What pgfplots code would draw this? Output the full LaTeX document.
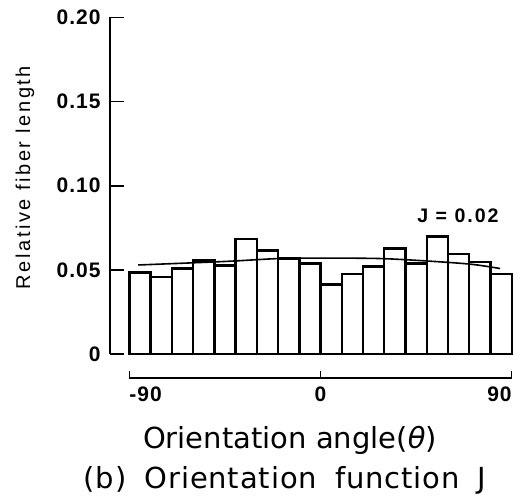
\documentclass[border=0pt]{standalone}
\usepackage{fontspec}
\setmainfont{Liberation Sans}
\newfontfamily\titlefont{DejaVu Sans}
\newfontfamily\ylabfont[LetterSpace=13]{Liberation Sans}
\newfontfamily\tickfont[LetterSpace=5]{Liberation Sans}
\newfontfamily\jfont[LetterSpace=10]{Liberation Sans}
\usepackage{pgfplots}
\pgfplotsset{compat=1.18}
\begin{document}
\begin{tikzpicture}[x=1pt,y=1pt]
\path[use as bounding box] (0,0) rectangle (265.5,-250.5);
% main axis with bars and y axis
\begin{axis}[
  at={(55pt,-177pt)}, anchor=south west,
  scale only axis, width=203pt, height=168.25pt,
  xmin=-99.1, xmax=92, ymin=0, ymax=0.2,
  axis x line=none, axis y line*=left,
  axis line style={line width=0.8pt, -},
  ytick={0,0.05,0.10,0.15,0.20},
  yticklabels={0,0.05,0.10,0.15,0.20},
  tick align=inside, major tick length=7pt,
  tick style={line width=0.8pt, black},
  /pgf/number format/assume math mode=true,
  yticklabel style={font=\tickfont\bfseries\fontsize{10.5}{12}\selectfont, inner sep=0pt},
  yticklabel shift=4.5pt,
  ylabel={\ylabfont\fontsize{10}{12}\selectfont Relative fiber length},
  ylabel style={at={(axis description cs:-0.2094,0.524)}, anchor=center},
  clip=false,
]
\addplot[ybar, bar width=10, bar shift=0, fill=white, draw=black, line width=1.2pt] coordinates {
(-85,0.0485) (-75,0.0457) (-65,0.0507) (-55,0.0556) (-45,0.0526) (-35,0.0684)
(-25,0.0615) (-15,0.0568) (-5,0.0538) (5,0.0412) (15,0.0477) (25,0.0521)
(35,0.0627) (45,0.0539) (55,0.0699) (65,0.0595) (75,0.0547) (85,0.0476)
};
\addplot[smooth, black, line width=0.8pt, mark=none] coordinates {
(-85.8,0.0529) (-45,0.0550) (-20,0.0567) (2,0.0570) (28.8,0.0567) (52.3,0.0551) (71.2,0.0533) (84.5,0.0508)
};
\node[font=\jfont\bfseries\fontsize{9.8}{12}\selectfont] at (axis cs:64.7,0.082) {J = 0.02};
\end{axis}
% separate x axis
\begin{axis}[
  at={(64.65pt,-189pt)}, anchor=south west,
  scale only axis, width=191.2pt, height=10pt,
  xmin=-90, xmax=90, ymin=0, ymax=1,
  axis x line*=bottom, axis y line=none,
  axis line style={line width=0.8pt, -},
  xtick={-90,0,90},
  xticklabels={\rlap{-90},0,\llap{90}},
  tick align=inside, major tick length=3.5pt,
  tick style={line width=0.8pt, black},
  /pgf/number format/assume math mode=true,
  xticklabel style={font=\tickfont\bfseries\fontsize{10.5}{12}\selectfont, inner sep=0pt, anchor=north},
  xticklabel shift=4pt,
]
\addplot[draw=none] coordinates {(-90,0) (90,0)};
\end{axis}
\node[anchor=base, font=\titlefont\fontsize{14.5}{17}\selectfont, inner sep=0pt] at (145,-224.5)
  {Orientation angle(\textit{θ})};
\node[anchor=base, font=\titlefont\fontsize{14.5}{17}\selectfont, inner sep=0pt] at (142.5,-244.5)
  {\addfontfeature{LetterSpace=3}(b)\hspace{9pt}Orientation\hspace{9pt}function\hspace{9pt}J};
\end{tikzpicture}
\end{document}
